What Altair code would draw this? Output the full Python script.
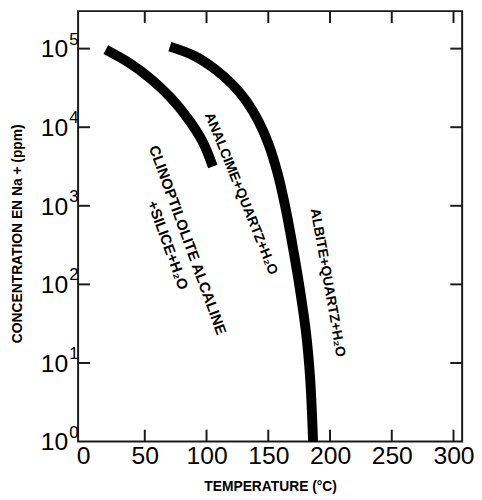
import altair as alt
import pandas as pd

# ---- data ----
clino_T = [18.4, 37.4, 55.0, 70.8, 84.7, 96.6, 105.1]
clino_na = [97100, 65900, 41100, 23900, 13000, 6650, 3160]
albite_T = [70.3, 89.5, 107.1, 121.5, 132.7, 142.3, 150.3, 157.5, 163.9,
            170.3, 175.9, 180.7, 183.9, 186.3]
albite_na = [106000, 81700, 54500, 34300, 21000, 11700, 6040, 2610, 948,
             274, 81.3, 23.4, 6.4, 1.0]

x_tick_values = [0, 50, 100, 150, 200, 250, 300]
x_inner_ticks = [50, 100, 150, 200, 250, 300]
y_exponents = [0, 1, 2, 3, 4, 5]
y_inner_ticks = [10, 100, 1000, 10000, 100000]

label_texts = ["CLINOPTILOLITE ALCALINE", "+SILICE+H₂O",
               "ANALCIME+QUARTZ+H₂O", "ALBITE+QUARTZ+H₂O"]
label_T = [84.7, 68.7, 127.9, 198.0]
label_na = [366, 316, 1422, 105]
label_angle = [70, 70, 68, 80]
label_size = [15, 15, 14, 14]

# ---- tables ----
lines = pd.DataFrame({
    "T": clino_T + albite_T,
    "Na": clino_na + albite_na,
    "curve": ["clino"] * len(clino_T) + ["albite"] * len(albite_T),
})
xt = pd.DataFrame({"T": x_inner_ticks})
yt = pd.DataFrame({"Na": y_inner_ticks})
ylab = pd.DataFrame({
    "Na": [10 ** e for e in y_exponents],
    "base": ["10"] * len(y_exponents),
    "exp": [str(e) for e in y_exponents],
})
labels = pd.DataFrame({"text": label_texts, "T": label_T, "Na": label_na,
                       "angle": label_angle, "size": label_size})

W, H = 389, 436
FONT = "Liberation Sans"
INK = "#1a1a1a"
xs = alt.Scale(domain=[-4, 307], nice=False, zero=False)
ys = alt.Scale(type="log", domain=[1, 3.0e5], nice=False)

x_axis = alt.Axis(
    values=x_tick_values, ticks=False, domain=False, grid=False,
    labelFontSize=25, labelFont=FONT, labelColor="black", labelPadding=2,
    labelFlush=False, labelOverlap=False,
    title="TEMPERATURE (°C)", titleFont=FONT, titleFontSize=14,
    titleFontWeight="bold", titleColor="black",
    titleBaseline="alphabetic", titleY=50)
y_axis = alt.Axis(
    values=[10 ** e for e in y_exponents], labels=False, ticks=False,
    domain=False, grid=False,
    title="CONCENTRATION EN Na + (ppm)", titleFont=FONT, titleFontSize=14,
    titleFontWeight="bold", titleColor="black", titleAngle=270,
    titleBaseline="bottom", titleAlign="center", titleX=-54, titleY=225)


def X():
    return alt.X("T:Q", scale=xs, axis=x_axis)


def Y():
    return alt.Y("Na:Q", scale=ys, axis=y_axis)


curves = alt.Chart(lines).mark_line(
    color="black", strokeWidth=10, strokeCap="butt", interpolate="catmull-rom"
).encode(x=X(), y=Y(), detail="curve:N")

tick_b = alt.Chart(xt).mark_rule(color=INK, strokeWidth=2).encode(
    x=X(), y=alt.value(H), y2=alt.value(H - 12))
tick_t = alt.Chart(xt).mark_rule(color=INK, strokeWidth=2).encode(
    x=X(), y=alt.value(0), y2=alt.value(12))
tick_l = alt.Chart(yt).mark_rule(color=INK, strokeWidth=2).encode(
    y=Y(), x=alt.value(0), x2=alt.value(12))
tick_r = alt.Chart(yt).mark_rule(color=INK, strokeWidth=2).encode(
    y=Y(), x=alt.value(W), x2=alt.value(W - 12))

ylab_base = alt.Chart(ylab).mark_text(
    align="right", baseline="middle", fontSize=25, font=FONT, color="black", dy=1
).encode(y=Y(), x=alt.value(-10), text="base:N")
ylab_exp = alt.Chart(ylab).mark_text(
    align="left", baseline="middle", fontSize=17, font=FONT, color="black", dy=-9
).encode(y=Y(), x=alt.value(-9), text="exp:N")

txt = alt.Chart(labels).mark_text(
    align="center", baseline="middle", font=FONT, fontWeight="bold", color="black"
).encode(
    x=X(), y=Y(),
    text="text:N",
    angle=alt.Angle("angle:Q", scale=None),
    size=alt.Size("size:Q", scale=None),
)

chart = alt.layer(
    curves, tick_b, tick_t, tick_l, tick_r, ylab_base, ylab_exp, txt
).properties(
    width=W, height=H,
    autosize=alt.AutoSizeParams(type="none"),
    padding={"left": 71, "top": 0, "right": 12, "bottom": 54},
).configure_view(stroke=INK, strokeWidth=2).configure_axis(grid=False)

chart.save("out.html", embed_options={"renderer": "svg", "actions": False})
